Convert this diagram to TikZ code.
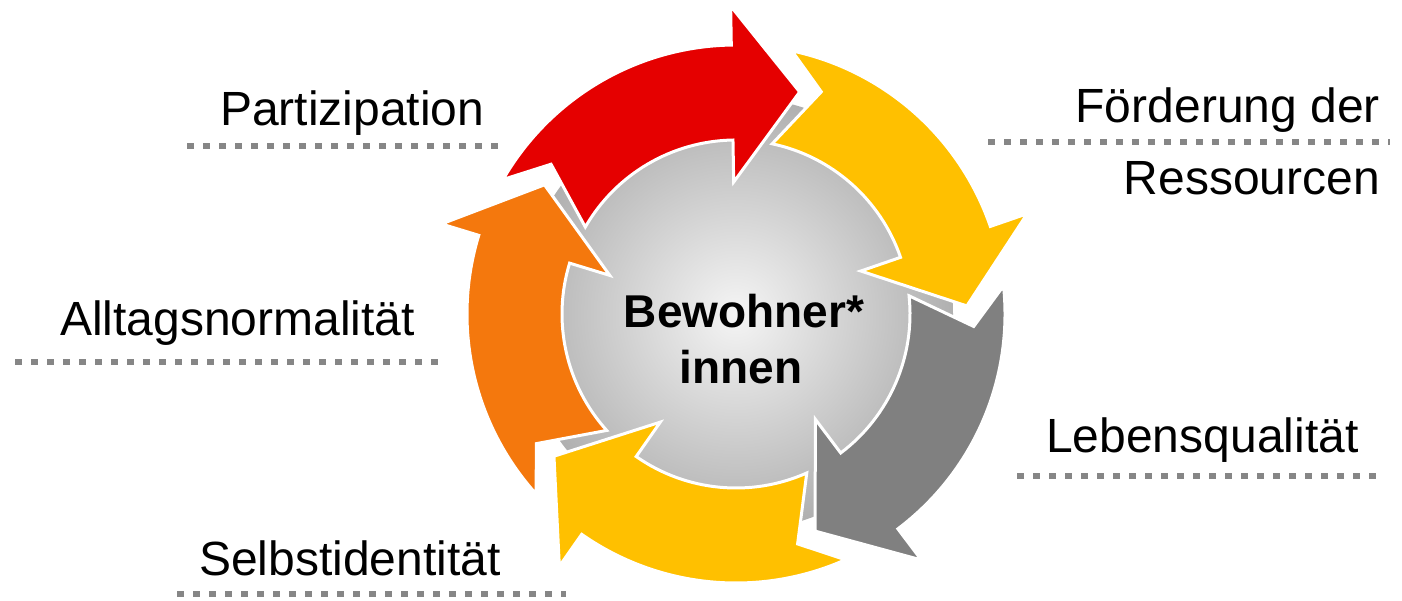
\documentclass[tikz,border=0pt]{standalone}
\usepackage{fontspec}
\setmainfont{Liberation Sans}
\usepackage{tikz}

\definecolor{cyclered}{HTML}{E50000}
\definecolor{cycleyellow}{HTML}{FFC000}
\definecolor{cyclegray}{HTML}{808080}
\definecolor{cycleorange}{HTML}{F4780D}
\definecolor{dotgray}{HTML}{868686}

\tikzset{
	label/.style={font=\fontsize{48pt}{56pt}\selectfont, inner sep=0pt},
	centre/.style={font=\fontsize{46pt}{55pt}\selectfont\bfseries, inner sep=0pt, anchor=base},
	dotline/.style={line width=6.5pt, draw=dotgray, dash pattern=on 6.5pt off 9.5pt},
	ringarrow/.style={draw=white, line width=3pt, line join=miter}
}

\begin{document}
\begin{tikzpicture}[x=1pt, y=-1pt]
	
	\useasboundingbox (0, 0) rectangle (1402, 601);
	
	% inner disc and the five arrows around it
	\begin{scope}[shift={(736, 314)}, yscale=-1]
		\shade[inner color=black!4, outer color=black!31] (0, 0) circle[radius=217];
		
		\fill[ringarrow, fill=cyclered]    (150:269) arc[start angle=150, end angle=91, radius=269] -- (91:308) -- (74:231) -- (91:132) -- (91:174) arc[start angle=91, end angle=150, radius=174] -- (141:238) -- cycle;
		\fill[ringarrow, fill=cycleyellow] (78:269) arc[start angle=78, end angle=19, radius=269] -- (19:308) -- (2:231) -- (19:132) -- (19:174) arc[start angle=19, end angle=78, radius=174] -- (69:238) -- cycle;
		\fill[ringarrow, fill=cyclegray]   (6:269) arc[start angle=6, end angle=-53, radius=269] -- (-53:308) -- (-70:231) -- (-53:132) -- (-53:174) arc[start angle=-53, end angle=6, radius=174] -- (-3:238) -- cycle;
		\fill[ringarrow, fill=cycleyellow] (-66:269) arc[start angle=-66, end angle=-125, radius=269] -- (-125:308) -- (-142:231) -- (-125:132) -- (-125:174) arc[start angle=-125, end angle=-66, radius=174] -- (-75:238) -- cycle;
		\fill[ringarrow, fill=cycleorange] (-138:269) arc[start angle=-138, end angle=-197, radius=269] -- (-197:308) -- (-214:231) -- (-197:132) -- (-197:174) arc[start angle=-197, end angle=-138, radius=174] -- (-147:238) -- cycle;
	\end{scope}
	
	\node[centre] (bewohner) at (744, 327) {Bewohner*};
	\node[centre] (innen)    at (741, 383) {innen};
	
	% labels
	\node[label, anchor=base west] (partizipation) at (220, 126)  {Partizipation};
	\node[label, anchor=base east] (foerderung)    at (1380, 123) {Förderung der};
	\node[label, anchor=base east] (ressourcen)    at (1380, 195) {Ressourcen};
	\node[label, anchor=base west] (alltag)        at (60, 336)   {Alltagsnormalität};
	\node[label, anchor=base west] (lebens)        at (1046, 452) {Lebensqualität};
	\node[label, anchor=base west] (selbst)        at (199, 575)  {Selbstidentität};
	
	% dotted rules under the labels
	\coordinate (partA) at (187, 146);
	\coordinate (partB) at (500, 146);
	\coordinate (foerA) at (988, 142);
	\coordinate (foerB) at (1390, 142);
	\coordinate (alltA) at (15, 362);
	\coordinate (alltB) at (440, 362);
	\coordinate (lebeA) at (1017, 476);
	\coordinate (lebeB) at (1376, 476);
	\coordinate (selbA) at (177, 594);
	\coordinate (selbB) at (566, 594);
	
	\path[dotline] (partA) edge (partB);
	\path[dotline] (foerA) edge (foerB);
	\path[dotline] (alltA) edge (alltB);
	\path[dotline] (lebeA) edge (lebeB);
	\path[dotline] (selbA) edge (selbB);
	
\end{tikzpicture}
\end{document}
